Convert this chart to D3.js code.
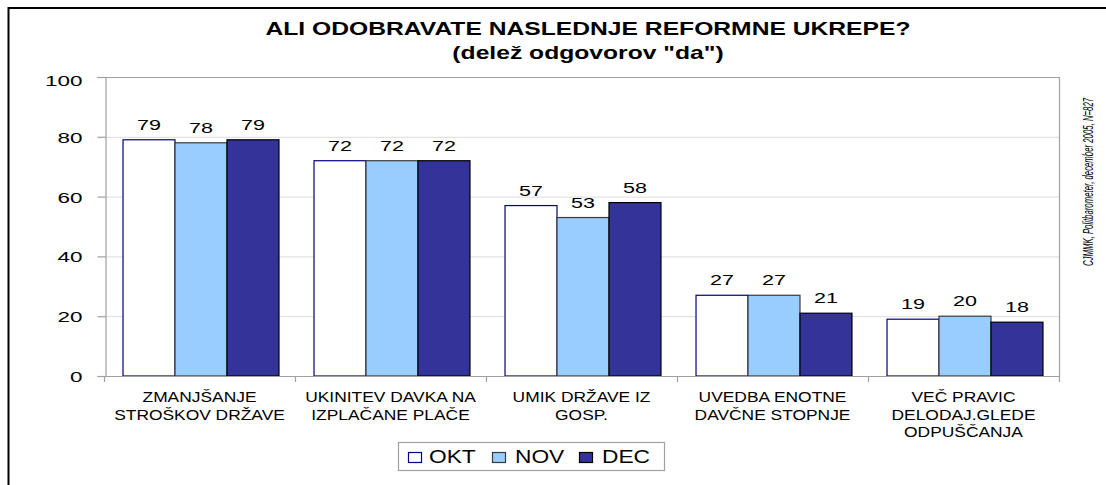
<!DOCTYPE html>
<html>
<head>
<meta charset="utf-8">
<script src="https://cdn.jsdelivr.net/npm/d3@7"></script>
<style>
  html, body { margin: 0; padding: 0; background: #fff; }
  text { font-family: "Liberation Sans", Arial, sans-serif; }
</style>
</head>
<body>
<script>
// Data
const categories = [
  "ZMANJŠANJE STROŠKOV DRŽAVE",
  "UKINITEV DAVKA NA IZPLAČANE PLAČE",
  "UMIK DRŽAVE IZ GOSP.",
  "UVEDBA ENOTNE DAVČNE STOPNJE",
  "VEČ PRAVIC DELODAJ.GLEDE ODPUŠČANJA"
];
const categoryLines = [
  ["ZMANJŠANJE", "STROŠKOV DRŽAVE"],
  ["UKINITEV DAVKA NA", "IZPLAČANE PLAČE"],
  ["UMIK DRŽAVE IZ", "GOSP."],
  ["UVEDBA ENOTNE", "DAVČNE STOPNJE"],
  ["VEČ PRAVIC", "DELODAJ.GLEDE", "ODPUŠČANJA"]
];
const seriesNames = ["OKT", "NOV", "DEC"];
const okt = [79, 72, 57, 27, 19];
const nov = [78, 72, 53, 27, 20];
const dec = [79, 72, 58, 21, 18];
const yTicks = [0, 20, 40, 60, 80, 100];

const seriesValues = [okt, nov, dec];
const fills = ["#ffffff", "#99ccff", "#333399"];
const strokes = ["#000080", "#3a3a3a", "#000000"];

const width = 1106;
const height = 485;
const plot = { left: 105, right: 1060, top: 77, bottom: 376 };

const svg = d3
  .select("body")
  .append("svg")
  .attr("width", width)
  .attr("height", height);

// Outer chart border (runs off the right and bottom edge)
svg
  .append("rect")
  .attr("x", 8.5)
  .attr("y", 8)
  .attr("width", width + 20)
  .attr("height", height + 20)
  .attr("fill", "#fff")
  .attr("stroke", "#000")
  .attr("stroke-width", 2);

// Scales
const xScale = d3
  .scaleBand()
  .domain(categories)
  .range([plot.left, plot.right])
  .padding(0);

const xInner = d3
  .scaleBand()
  .domain(seriesNames)
  .range([0, xScale.bandwidth()])
  .paddingInner(0)
  .paddingOuter(0.337);

const yScale = d3
  .scaleLinear()
  .domain([0, 100])
  .range([plot.bottom, plot.top]);

// Helper: text stretched horizontally like the source picture
function stretchedText(parent, x, y, str, opts) {
  const g = parent
    .append("g")
    .attr("transform", `translate(${x}, ${y}) scale(${opts.sx}, 1)`);
  return g
    .append("text")
    .attr("text-anchor", opts.anchor || "middle")
    .attr("font-size", opts.size + "px")
    .attr("font-weight", opts.weight || "normal")
    .attr("fill", "#000")
    .text(str);
}

// Gridlines
svg
  .append("g")
  .selectAll("line")
  .data(yTicks.filter((d) => d > 0 && d < 100))
  .join("line")
  .attr("x1", plot.left)
  .attr("x2", plot.right)
  .attr("y1", (d) => yScale(d) + 0.5)
  .attr("y2", (d) => yScale(d) + 0.5)
  .attr("stroke", "#dcdcdc")
  .attr("stroke-width", 1);

// Plot area top and right border
svg
  .append("path")
  .attr(
    "d",
    `M${plot.left},${yScale(100) + 0.5}H${plot.right - 0.5}V${plot.bottom}`
  )
  .attr("fill", "none")
  .attr("stroke", "#a0a0a0")
  .attr("stroke-width", 1.2);

// Bars
const groups = svg
  .append("g")
  .selectAll("g")
  .data(categories)
  .join("g")
  .attr("transform", (d) => `translate(${xScale(d)}, 0)`);

seriesNames.forEach((s, si) => {
  groups
    .append("rect")
    .attr("x", xInner(s) + 0.5)
    .attr("y", (d, i) => yScale(seriesValues[si][i]))
    .attr("width", xInner.bandwidth())
    .attr("height", (d, i) => plot.bottom - yScale(seriesValues[si][i]))
    .attr("fill", fills[si])
    .attr("stroke", strokes[si])
    .attr("stroke-width", 1.2);

  // Value labels
  groups.each(function (d, i) {
    const v = seriesValues[si][i];
    stretchedText(
      d3.select(this),
      xInner(s) + xInner.bandwidth() / 2 + 0.5,
      yScale(v) - 10,
      d3.format("d")(v),
      { size: 15.5, sx: 1.39 }
    );
  });
});

// Y axis
const yAxis = d3.axisLeft(yScale).tickValues(yTicks).tickSize(8);
const yAxisG = svg
  .append("g")
  .attr("transform", `translate(${plot.left + 0.5}, 0)`)
  .call(yAxis);
yAxisG.select(".domain").attr("stroke", "#a0a0a0").attr("stroke-width", 1.2);
yAxisG.selectAll(".tick line").attr("stroke", "#a0a0a0").attr("stroke-width", 1.2);
yAxisG.selectAll(".tick text").remove();
yAxisG.selectAll(".tick").each(function (d) {
  stretchedText(d3.select(this), -23, d === 100 ? 8 : 5.5, d, {
    size: 15.5,
    sx: 1.45,
    anchor: "end"
  });
});

// X axis line and group ticks
svg
  .append("line")
  .attr("x1", plot.left)
  .attr("x2", plot.right)
  .attr("y1", plot.bottom + 0.5)
  .attr("y2", plot.bottom + 0.5)
  .attr("stroke", "#a0a0a0")
  .attr("stroke-width", 1.2);

const boundaries = categories.map((c) => xScale(c)).concat([xScale.range()[1]]);
svg
  .append("g")
  .selectAll("line")
  .data(boundaries)
  .join("line")
  .attr("x1", (d) => d - 0.5)
  .attr("x2", (d) => d - 0.5)
  .attr("y1", plot.bottom)
  .attr("y2", plot.bottom + 6)
  .attr("stroke", "#a0a0a0")
  .attr("stroke-width", 1.2);

// Category labels
categories.forEach((c, i) => {
  const cx = xScale(c) + xScale.bandwidth() / 2;
  categoryLines[i].forEach((line, li) => {
    stretchedText(svg, cx - 1, 402 + li * 17.5, line, { size: 14.5, sx: 1.2 });
  });
});

// Title
stretchedText(svg, 588, 35, "ALI ODOBRAVATE NASLEDNJE REFORMNE UKREPE?", {
  size: 18,
  sx: 1.37,
  weight: "bold"
});
stretchedText(svg, 588, 59, "(delež odgovorov \"da\")", {
  size: 18,
  sx: 1.37,
  weight: "bold"
});

// Legend
const legend = svg.append("g");
legend
  .append("rect")
  .attr("x", 398.5)
  .attr("y", 442.5)
  .attr("width", 266)
  .attr("height", 28)
  .attr("fill", "#fff")
  .attr("stroke", "#a0a0a0")
  .attr("stroke-width", 1.2);

const legendSquareX = [408, 492, 579];
const legendTextX = [429, 515, 602];
seriesNames.forEach((s, si) => {
  legend
    .append("rect")
    .attr("x", legendSquareX[si] + 0.5)
    .attr("y", 452.5)
    .attr("width", 13)
    .attr("height", 10)
    .attr("fill", fills[si])
    .attr("stroke", strokes[si])
    .attr("stroke-width", 1.2);
  stretchedText(legend, legendTextX[si], 463, s, {
    size: 17.5,
    sx: 1.3,
    anchor: "start"
  });
});

// Source note, rotated on the right (condensed along its length)
svg
  .append("g")
  .attr("transform", "translate(1093, 182) rotate(-90) scale(0.52, 1)")
  .append("text")
  .attr("text-anchor", "middle")
  .attr("font-size", "15px")
  .attr("font-style", "italic")
  .attr("fill", "#000")
  .text("CJMMK, Politbarometer, december 2005, N=827");
</script>
</body>
</html>
